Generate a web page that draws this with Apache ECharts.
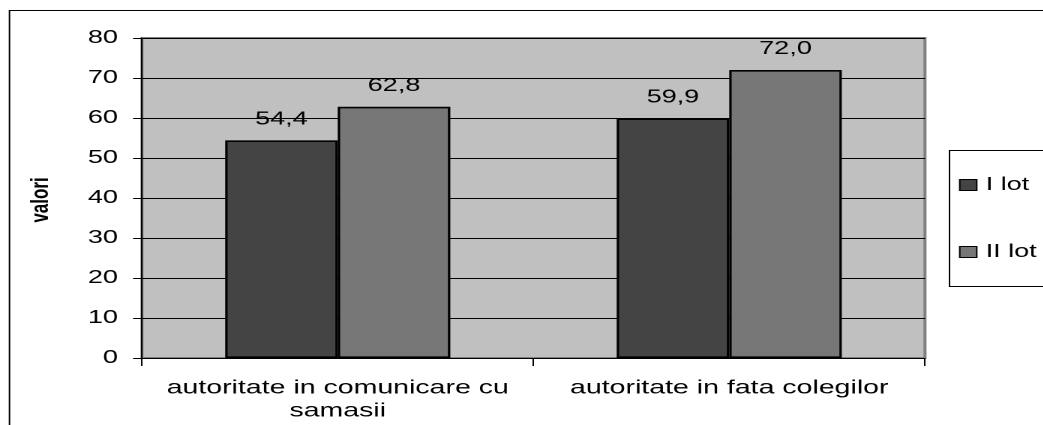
<!DOCTYPE html>
<html>
<head>
<meta charset="utf-8">
<script src="https://cdn.jsdelivr.net/npm/echarts@6/dist/echarts.min.js"></script>
<style>
html,body{margin:0;padding:0;background:#fff;overflow:hidden;}
#wrap{width:1043px;height:425px;overflow:hidden;position:relative;}
#c{height:425px;transform-origin:0 0;position:absolute;left:0;top:0;}
</style>
</head>
<body>
<div id="wrap"><div id="c"></div></div>
<script>
const categories = ['autoritate in comunicare cu\nsamasii', 'autoritate in fata colegilor'];
const seriesNames = ['I lot', 'II lot'];
const lot1 = [54.4, 59.9];
const lot2 = [62.8, 72.0];
const yTicks = [0, 10, 20, 30, 40, 50, 60, 70, 80];

// the reference text is horizontally wide; draw narrower and stretch horizontally
const S = 1.5;
const W = 1043 / S;
const el = document.getElementById('c');
el.style.width = W + 'px';
el.style.transform = 'scaleX(' + S + ')';
const X = v => v / S;

const chart = echarts.init(el, null, {renderer: 'canvas', devicePixelRatio: 2, width: W, height: 425});
const font = 'Liberation Sans, Arial, sans-serif';
const lbl = {
  show: true, position: 'top', distance: 12,
  formatter: p => p.value.toFixed(1).replace('.', ','),
  color: '#000', fontFamily: font, fontSize: 18
};
chart.setOption({
  animation: false,
  backgroundColor: '#fff',
  textStyle: {fontFamily: font},
  grid: {left: X(142), right: X(1043 - 925), top: 38, bottom: 67, show: true,
         backgroundColor: '#c0c0c0', borderColor: '#808080', borderWidth: 2},
  legend: {
    orient: 'vertical', left: X(959), top: 176, itemGap: 49, padding: 0,
    itemWidth: X(17), itemHeight: 11,
    itemStyle: {borderColor: '#000', borderWidth: 1},
    textStyle: {fontFamily: font, fontSize: 18, color: '#000', lineHeight: 18, padding: [0, 0, 0, 1]},
    data: seriesNames.map(n => ({name: n, icon: 'rect'}))
  },
  graphic: [
    {type: 'rect', shape: {x: X(9.5), y: 10.5, width: 1000, height: 500},
     style: {fill: 'none', stroke: '#000', lineWidth: 1}, z: -10, silent: true},
    {type: 'rect', shape: {x: X(949.5), y: 150.5, width: 200, height: 136},
     style: {fill: '#fff', stroke: '#000', lineWidth: 1}, z: -1, silent: true},
    {type: 'text', x: X(41), y: 200, rotation: Math.PI / 2,
     style: {text: 'valori', font: 'bold 17px ' + font, fill: '#000', align: 'center', verticalAlign: 'middle'},
     silent: true}
  ],
  xAxis: {
    type: 'category', data: categories,
    axisLine: {show: true, lineStyle: {color: '#000', width: 1}},
    axisTick: {show: true, length: 8, lineStyle: {color: '#000'}},
    axisLabel: {fontFamily: font, fontSize: 19, color: '#000', margin: 19, lineHeight: 23, interval: 0},
    splitLine: {show: false}
  },
  yAxis: {
    type: 'value', min: yTicks[0], max: yTicks[yTicks.length - 1], interval: yTicks[1] - yTicks[0],
    axisLine: {show: true, lineStyle: {color: '#000', width: 1}},
    axisTick: {show: true, length: X(9), lineStyle: {color: '#000'}},
    axisLabel: {fontFamily: font, fontSize: 18, color: '#000', margin: X(24)},
    splitLine: {show: true, lineStyle: {color: '#000', width: 1}}
  },
  series: [
    {name: seriesNames[0], type: 'bar', data: lot1, barGap: '0%', barCategoryGap: '42.5%',
     itemStyle: {color: '#444444', borderColor: '#000', borderWidth: 1.6}, label: lbl},
    {name: seriesNames[1], type: 'bar', data: lot2,
     itemStyle: {color: '#777777', borderColor: '#000', borderWidth: 1.6}, label: lbl}
  ]
});
</script>
</body>
</html>
